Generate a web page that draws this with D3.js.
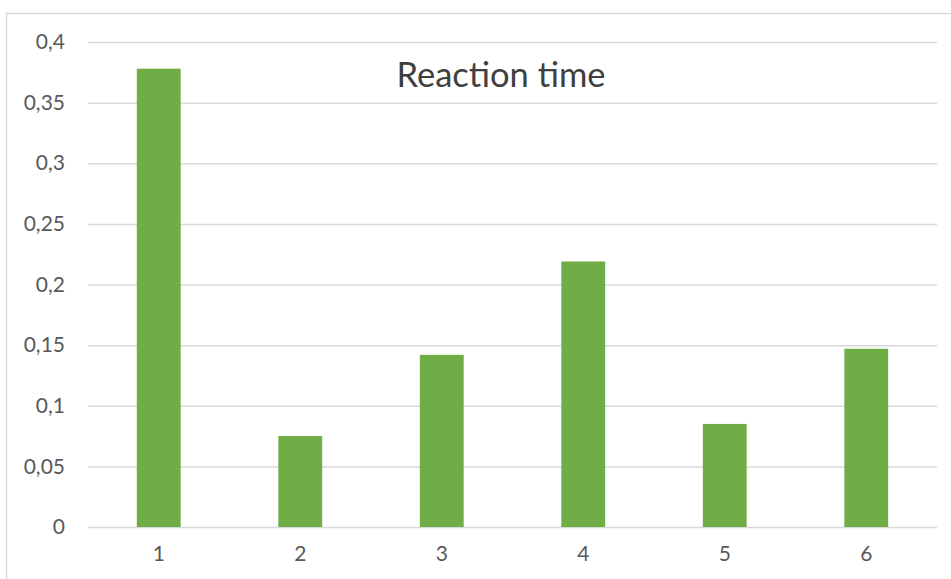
<!DOCTYPE html>
<html>
<head>
<meta charset="utf-8">
<script src="https://cdn.jsdelivr.net/npm/d3@7"></script>
<style>
  html, body { margin: 0; padding: 0; background: #fff; }
  svg { display: block; }
</style>
</head>
<body>
<svg id="chart" width="951" height="579"></svg>
<script>
// Reaction time per trial
const categories = ["1", "2", "3", "4", "5", "6"];
const reactionTimes = [0.378, 0.075, 0.142, 0.219, 0.085, 0.147];
const yTicks = [0, 0.05, 0.1, 0.15, 0.2, 0.25, 0.3, 0.35, 0.4];
const yTickLabels = ["0", "0,05", "0,1", "0,15", "0,2", "0,25", "0,3", "0,35", "0,4"];
const chartTitle = "Reaction time";

const svg = d3.select("#chart");
const W = 951, H = 579;
const plot = { left: 88, right: 937, top: 42, bottom: 527 };
const font = "Lato, 'Open Sans', sans-serif";

// Chart area frame (top and left edges visible)
svg.append("path")
  .attr("d", `M6.5,${H} L6.5,13.5 L${W},13.5`)
  .attr("fill", "none")
  .attr("stroke", "#d9d9d9")
  .attr("stroke-width", 1.5);

const x = d3.scaleBand()
  .domain(categories)
  .range([plot.left, plot.right])
  .paddingInner(0.69)
  .paddingOuter(0.345);

const y = d3.scaleLinear()
  .domain([0, 0.4])
  .range([plot.bottom, plot.top]);

// Horizontal gridlines and value labels
const yAxis = d3.axisLeft(y)
  .tickValues(yTicks)
  .tickSize(-(plot.right - plot.left))
  .tickPadding(23)
  .tickFormat((d, i) => yTickLabels[i]);

const gy = svg.append("g")
  .attr("transform", `translate(${plot.left},0)`)
  .call(yAxis);
gy.select(".domain").remove();
gy.selectAll(".tick line")
  .attr("stroke", "#d9d9d9")
  .attr("stroke-width", 1.5);
gy.selectAll(".tick text")
  .attr("fill", "#595959")
  .style("font-family", font)
  .style("font-size", "21px");

// Category labels under the baseline
const xAxis = d3.axisBottom(x).tickSize(0).tickPadding(19);
const gx = svg.append("g")
  .attr("transform", `translate(0,${plot.bottom})`)
  .call(xAxis);
gx.select(".domain").remove();
gx.selectAll(".tick text")
  .attr("fill", "#595959")
  .style("font-family", font)
  .style("font-size", "21px");

// Bars
svg.append("g")
  .selectAll("rect")
  .data(reactionTimes)
  .join("rect")
  .attr("x", (d, i) => x(categories[i]))
  .attr("width", x.bandwidth())
  .attr("y", d => y(d))
  .attr("height", d => y(0) - y(d))
  .attr("fill", "#70ad47");

// Title
svg.append("text")
  .attr("x", 501)
  .attr("y", 87)
  .attr("text-anchor", "middle")
  .attr("fill", "#404040")
  .style("font-family", font)
  .style("font-size", "34.5px")
  .text(chartTitle);
</script>
</body>
</html>
